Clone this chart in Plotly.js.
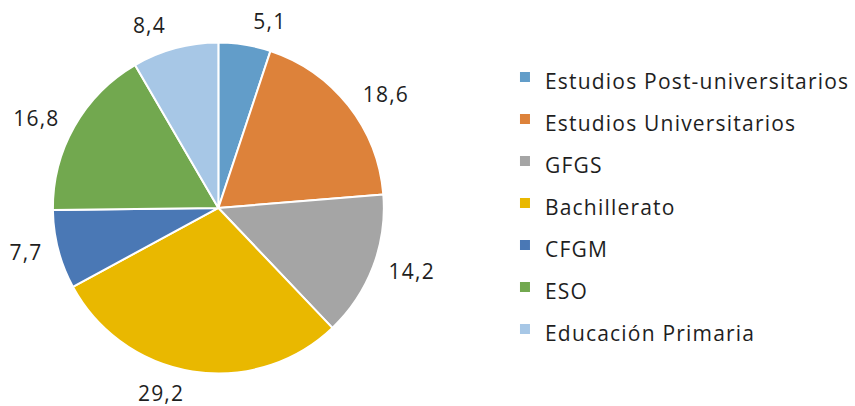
<!DOCTYPE html>
<html><head><meta charset="utf-8">
<script src="https://cdn.plot.ly/plotly-3.0.1.min.js"></script>
<style>html,body{margin:0;padding:0;background:#fff}
.legendtext, .slicetext{letter-spacing:1.2px}</style>
</head><body><div id="chart" style="width:855px;height:406px"></div>
<script>
const categories = ["Estudios Post-universitarios","Estudios Universitarios","GFGS","Bachillerato","CFGM","ESO","Educación Primaria"];
const values = [5.1, 18.6, 14.2, 29.2, 7.7, 16.8, 8.4];
const colors = ["#629DC9","#DD823A","#A5A5A5","#E9B800","#4A78B5","#72A84F","#A7C7E6"];

const FONT = "Open Sans, Liberation Sans, sans-serif";
const TEXTCOLOR = "#1e1e1e";

// main pie (slices + legend)
const pie = {
  type: "pie",
  labels: categories.map(c => '<span style="font-size:21px">' + c + '</span>'),
  values: values,
  sort: false,
  direction: "clockwise",
  rotation: 0,
  marker: {colors: colors, line: {color: "#ffffff", width: 2}},
  textinfo: "none",
  hoverinfo: "label+value",
  domain: {x: [0.062, 0.450], y: [0.0788, 0.8966]},
  automargin: false
};
// transparent, slightly larger pie carrying the outside value labels
const labelsPie = {
  type: "pie",
  labels: categories,
  values: values,
  sort: false,
  direction: "clockwise",
  rotation: 0,
  showlegend: false,
  marker: {colors: categories.map(() => "rgba(0,0,0,0)"), line: {width: 0}},
  textposition: "outside",
  texttemplate: "%{value}",
  textfont: {family: FONT, size: 21, color: TEXTCOLOR},
  hoverinfo: "skip",
  domain: {x: [(219-175)/855, (219+175)/855], y: [(199-175)/406, (199+175)/406]},
  automargin: false
};
const layout = {
  width: 855, height: 406,
  margin: {l: 0, r: 0, t: 0, b: 0},
  paper_bgcolor: "#ffffff",
  separators: ",.",
  showlegend: true,
  legend: {x: 0.592, y: 0.5, xanchor: "left", yanchor: "middle",
           font: {family: FONT, size: 30, color: TEXTCOLOR},
           itemwidth: 30, bgcolor: "rgba(0,0,0,0)"},
  font: {family: FONT}
};
Plotly.newPlot("chart", [pie, labelsPie], layout, {displayModeBar: false, staticPlot: true});
</script></body></html>
